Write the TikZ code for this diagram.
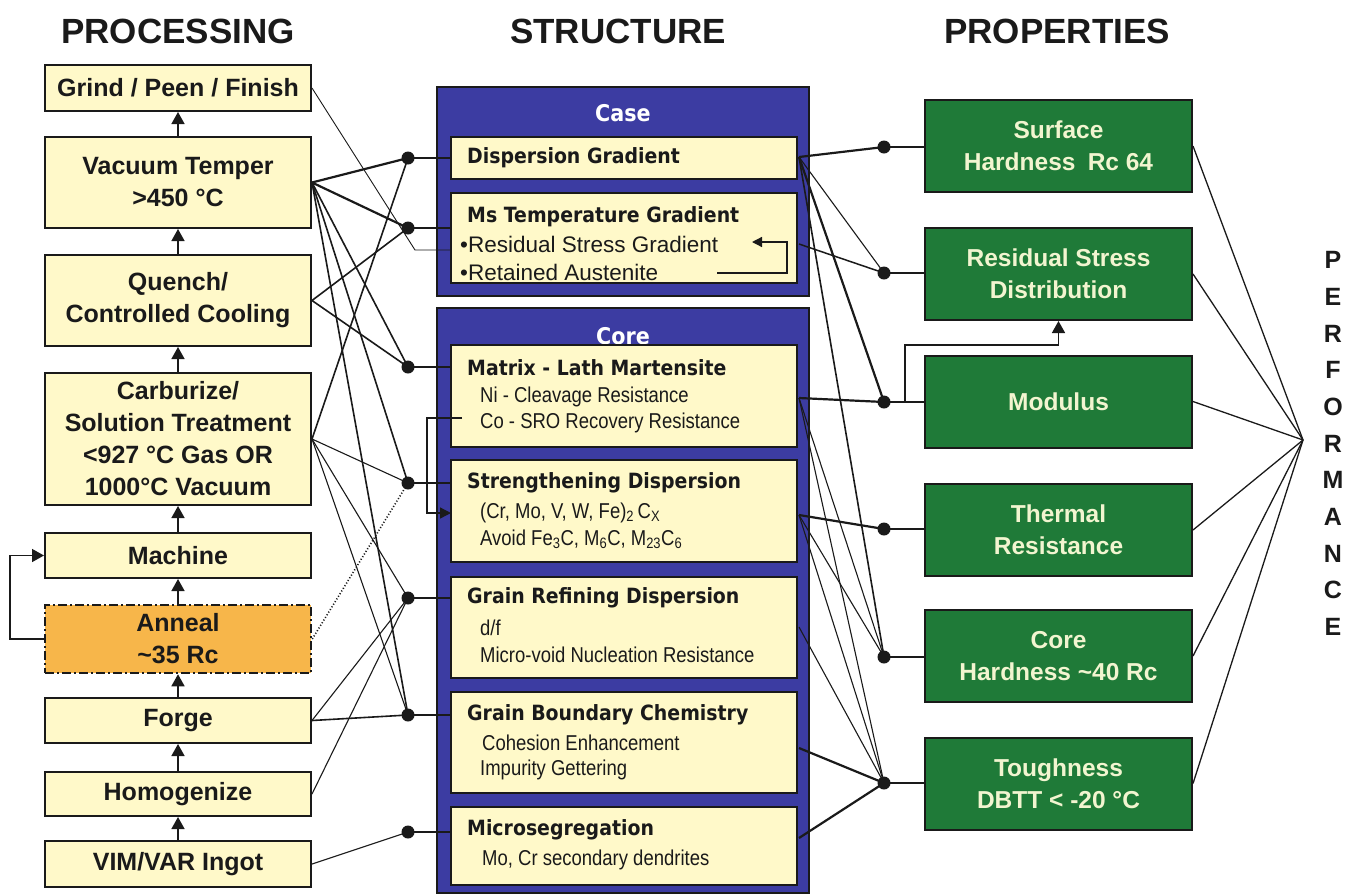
\documentclass[tikz,border=0pt]{standalone}
\usepackage{fontspec}
\setmainfont{Liberation Sans}
\newfontfamily\tah[FakeStretch=0.9]{DejaVu Sans}
\newfontfamily\narr[FakeStretch=0.86]{Liberation Sans}
\usetikzlibrary{arrows.meta}
\definecolor{cream}{HTML}{FFF9C9}
\definecolor{annealc}{HTML}{F7B64A}
\definecolor{framec}{HTML}{3C3CA2}
\definecolor{grn}{HTML}{1F7A38}
\definecolor{grntext}{HTML}{F2F5D0}
\definecolor{ink}{HTML}{1A1A1A}
\begin{document}
\begin{tikzpicture}[x=1pt,y=-1pt,
  lbox/.style={draw=ink, line width=2pt, fill=cream, minimum width=266pt, align=center, inner sep=0pt,
    text=ink, font=\fontsize{25}{32}\selectfont\bfseries},
  outer/.style={draw=ink, line width=2pt, fill=framec},
  inbox/.style={draw=ink, line width=2pt, fill=cream, minimum width=346pt, inner sep=0pt},
  ititle/.style={anchor=west, inner sep=0pt, text=ink, font=\fontsize{21}{24}\selectfont\tah\bfseries},
  iline/.style={anchor=west, inner sep=0pt, text=ink, font=\fontsize{21.5}{24}\selectfont\narr},
  bline/.style={anchor=west, inner sep=0pt, text=ink, font=\fontsize{22.5}{24}\selectfont},
  gbox/.style={draw=ink, line width=2pt, fill=grn, minimum width=267pt, minimum height=92pt, inner sep=0pt,
    text=grntext, align=center, font=\fontsize{24.5}{32}\selectfont\bfseries},
  head/.style={inner sep=0pt, text=ink, font=\fontsize{35}{40}\selectfont\bfseries},
  ftitle/.style={inner sep=0pt, text=white, font=\fontsize{23}{26}\selectfont\tah\bfseries},
  dotn/.style={circle, fill=ink, inner sep=0pt, minimum size=13pt},
  upar/.style={line width=1.5pt, draw=ink, -{Triangle[width=13pt,length=12pt]}},
  conn/.style={line width=1.1pt, draw=ink},
  connb/.style={line width=2.2pt, draw=ink},
  perf/.style={inner sep=0pt, text=ink, font=\fontsize{25}{28}\selectfont\bfseries}
]
\useasboundingbox (0,0) rectangle (1352,895);
\fill[white] (0,0) rectangle (1352,895);

% headings
\node[head] (h1) at (178,31) {PROCESSING};
\node[head] (h2) at (618,31) {STRUCTURE};
\node[head] (h3) at (1057,31) {PROPERTIES};

% ---------- processing column ----------
\node[lbox, minimum height=46pt] (grind) at (178,88) {Grind / Peen / Finish};
\node[lbox, minimum height=91pt] (temper) at (178,182.5) {Vacuum Temper\\>450 °C};
\node[lbox, minimum height=91pt] (quench) at (178,300.5) {Quench/\\Controlled Cooling};
\node[lbox, minimum height=132pt] (carb) at (178,439) {Carburize/\\Solution Treatment\\<927 °C Gas OR\\1000°C Vacuum};
\node[lbox, minimum height=45pt] (machine) at (178,555.5) {Machine};
\node[lbox, minimum height=68pt, fill=annealc, line width=2.5pt, dash pattern=on 9pt off 3pt on 2pt off 3pt] (anneal) at (178,639) {Anneal\\\textasciitilde35 Rc};
\node[lbox, minimum height=45pt] (forge) at (178,720.5) {Forge};
\node[lbox, minimum height=44pt] (homog) at (178,794) {Homogenize};
\node[lbox, minimum height=46pt] (vim) at (178,864) {VIM/VAR Ingot};

\draw[upar] (temper.north) -- (grind.south);
\draw[upar] (quench.north) -- (temper.south);
\draw[upar] (carb.north) -- (quench.south);
\draw[upar] (machine.north) -- (carb.south);
\draw[upar] (anneal.north) -- (machine.south);
\draw[upar] (forge.north) -- (anneal.south);
\draw[upar] (homog.north) -- (forge.south);
\draw[upar] (vim.north) -- (homog.south);
\coordinate (loopx) at (10,639);
\draw[upar] (anneal.west) -- (loopx) |- (machine.west);

% ---------- structure column ----------
\draw[outer] (437,87) rectangle (809,296);
\node[ftitle] (casel) at (623,113) {Case};
\draw[outer] (437,308) rectangle (809,893);
\node[ftitle] (corel) at (623,336) {Core};

\node[inbox, minimum height=42pt] (dg) at (624,158) {};
\node[ititle] (dgt) at (467,158) {Dispersion Gradient};

\node[inbox, minimum height=90pt] (ms) at (624,238) {};
\node[ititle] (mst) at (467,217) {Ms Temperature Gradient};
\node[bline] (ms1) at (460,244) {•Residual Stress Gradient};
\node[bline] (ms2) at (460,272) {•Retained Austenite};
\coordinate (msa) at (717,273);
\coordinate (msb) at (787,273);
\coordinate (msc) at (787,242);
\coordinate (msd) at (752,242);
\draw[line width=1.3pt, draw=ink, -{Triangle[width=10pt,length=10pt]}] (msa) -- (msb) -- (msc) -- (msd);

\node[inbox, minimum height=102pt] (matrix) at (624,396) {};
\node[ititle] (mat0) at (467,368) {Matrix - Lath Martensite};
\node[iline] (mat1) at (480,397) {Ni - Cleavage Resistance};
\node[iline] (mat2) at (480,423) {Co - SRO Recovery Resistance};

\node[inbox, minimum height=102pt] (strength) at (624,511) {};
\node[ititle] (st0) at (467,483) {Strengthening Dispersion};
\node[iline] (st1) at (480,513) {(Cr, Mo, V, W, Fe)\textsubscript{2}\,C\textsubscript{X}};
\node[iline] (st2) at (480,539) {Avoid Fe\textsubscript{3}C, M\textsubscript{6}C, M\textsubscript{23}C\textsubscript{6}};

\node[inbox, minimum height=101pt] (grainref) at (624,627.5) {};
\node[ititle] (gr0) at (467,598) {Grain Refining Dispersion};
\node[iline] (gr1) at (480,628) {d/f};
\node[iline] (gr2) at (480,655) {Micro-void Nucleation Resistance};

\node[inbox, minimum height=101pt] (gbc) at (624,742.5) {};
\node[ititle] (gb0) at (467,715) {Grain Boundary Chemistry};
\node[iline] (gb1) at (482,743) {Cohesion Enhancement};
\node[iline] (gb2) at (480,770) {Impurity Gettering};

\node[inbox, minimum height=78pt] (micro) at (624,846) {};
\node[ititle] (mi0) at (467,830) {Microsegregation};
\node[iline] (mi1) at (482,860) {Mo, Cr secondary dendrites};

% internal arrow matrix -> strengthening
\coordinate (ma1) at (462,418);
\coordinate (ma2) at (427,418);
\coordinate (ma3) at (427,513);
\coordinate (ma4) at (451,513);
\draw[line width=1.3pt, draw=ink, -{Triangle[width=11pt,length=11pt]}] (ma1) -- (ma2) -- (ma3) -- (ma4);

% ---------- left junction dots ----------
\node[dotn] (ldg) at (408,158) {};
\node[dotn] (lms) at (408,228) {};
\node[dotn] (lmat) at (408,367) {};
\node[dotn] (lstr) at (408,483) {};
\node[dotn] (lgr) at (408,598) {};
\node[dotn] (lgb) at (408,715) {};
\node[dotn] (lmi) at (408,832) {};
\draw[conn] (ldg.center) -- (ldg -| dg.west);
\draw[conn] (lms.center) -- (lms -| ms.west);
\draw[conn] (lmat.center) -- (lmat -| matrix.west);
\draw[conn] (lstr.center) -- (lstr -| strength.west);
\draw[conn] (lgr.center) -- (lgr -| grainref.west);
\draw[conn] (lgb.center) -- (lgb -| gbc.west);
\draw[conn] (lmi.center) -- (lmi -| micro.west);

% processing -> structure connectors
\coordinate (gp1) at (415,250);
\coordinate (gp2) at (451,250);
\draw[conn, line width=0.9pt] (grind.east) -- (gp1) -- (gp2);
\draw[connb] (temper.east) -- (ldg.center);
\draw[connb] (temper.east) -- (lms.center);
\draw[conn, line width=1.6pt] (temper.east) -- (lmat.center);
\draw[conn, line width=1.6pt] (temper.east) -- (lstr.center);
\draw[conn, line width=1.6pt] (temper.east) -- (lgb.center);
\draw[conn, line width=1.6pt] (quench.east) -- (lms.center);
\draw[conn, line width=1.6pt] (quench.east) -- (lmat.center);
\draw[conn, line width=1.6pt] (carb.east) -- (ldg.center);
\draw[conn] (carb.east) -- (lstr.center);
\draw[conn] (carb.east) -- (lgr.center);
\draw[conn] (carb.east) -- (lgb.center);
\draw[conn, dotted, line width=1.6pt] (anneal.east) -- (lstr.center);
\draw[conn] (forge.east) -- (lgr.center);
\draw[conn, line width=1.6pt] (forge.east) -- (lgb.center);
\draw[conn] (homog.east) -- (lgr.center);
\draw[conn] (vim.east) -- (lmi.center);

% ---------- properties column ----------
\node[gbox] (surf) at (1058.5,146) {Surface\\Hardness\enspace Rc 64};
\node[gbox] (resid) at (1058.5,274) {Residual Stress\\Distribution};
\node[gbox] (modul) at (1058.5,401.5) {Modulus};
\node[gbox] (therm) at (1058.5,530) {Thermal\\Resistance};
\node[gbox] (coreh) at (1058.5,656) {Core\\Hardness \textasciitilde40 Rc};
\node[gbox] (tough) at (1058.5,783.5) {Toughness\\DBTT < -20 °C};

\node[dotn] (rsurf) at (884,147) {};
\node[dotn] (rres) at (884,273) {};
\node[dotn] (rmod) at (884,402) {};
\node[dotn] (rth) at (884,529) {};
\node[dotn] (rch) at (884,657) {};
\node[dotn] (rto) at (884,783) {};
\draw[conn, line width=1.4pt] (rsurf.center) -- (rsurf -| surf.west);
\draw[conn, line width=1.4pt] (rres.center) -- (rres -| resid.west);
\draw[conn, line width=1.4pt] (rmod.center) -- (rmod -| modul.west);
\draw[conn, line width=1.4pt] (rth.center) -- (rth -| therm.west);
\draw[conn, line width=1.4pt] (rch.center) -- (rch -| coreh.west);
\draw[conn, line width=1.4pt] (rto.center) -- (rto -| tough.west);

% structure -> properties connectors
\coordinate (dge) at (799,157);
\coordinate (mse) at (799,244);
\coordinate (mate) at (799,398);
\coordinate (ste) at (799,515);
\coordinate (gre) at (799,627);
\coordinate (gbe) at (799,748);
\coordinate (mie) at (799,838);
\draw[connb] (dge) -- (rsurf.center);
\draw[conn] (dge) -- (rres.center);
\draw[connb] (dge) -- (rmod.center);
\draw[conn, line width=1.6pt] (dge) -- (rch.center);
\draw[conn, line width=1.5pt] (mse) -- (rres.center);
\draw[connb] (mate) -- (rmod.center);
\draw[conn] (mate) -- (rch.center);
\draw[conn] (mate) -- (rto.center);
\draw[connb] (ste) -- (rth.center);
\draw[conn] (ste) -- (rch.center);
\draw[conn] (ste) -- (rto.center);
\draw[conn] (gre) -- (rto.center);
\draw[connb] (gbe) -- (rto.center);
\draw[connb] (mie) -- (rto.center);

% modulus -> residual stress arrow
\coordinate (mb) at (905,402);
\draw[upar] (mb) -- ++(0,-57) -| (resid.south);

% ---------- performance ----------
\coordinate (apex) at (1303,440);
\foreach \n in {surf,resid,modul,therm,coreh,tough}{
  \draw[conn, line width=1.3pt] (\n.east) -- (apex);
}
\foreach \ch [count=\i from 0] in {P,E,R,F,O,R,M,A,N,C,E}{
  \node[perf] (perf\i) at (1333,{260+36.7*\i}) {\ch};
}
\end{tikzpicture}
\end{document}
